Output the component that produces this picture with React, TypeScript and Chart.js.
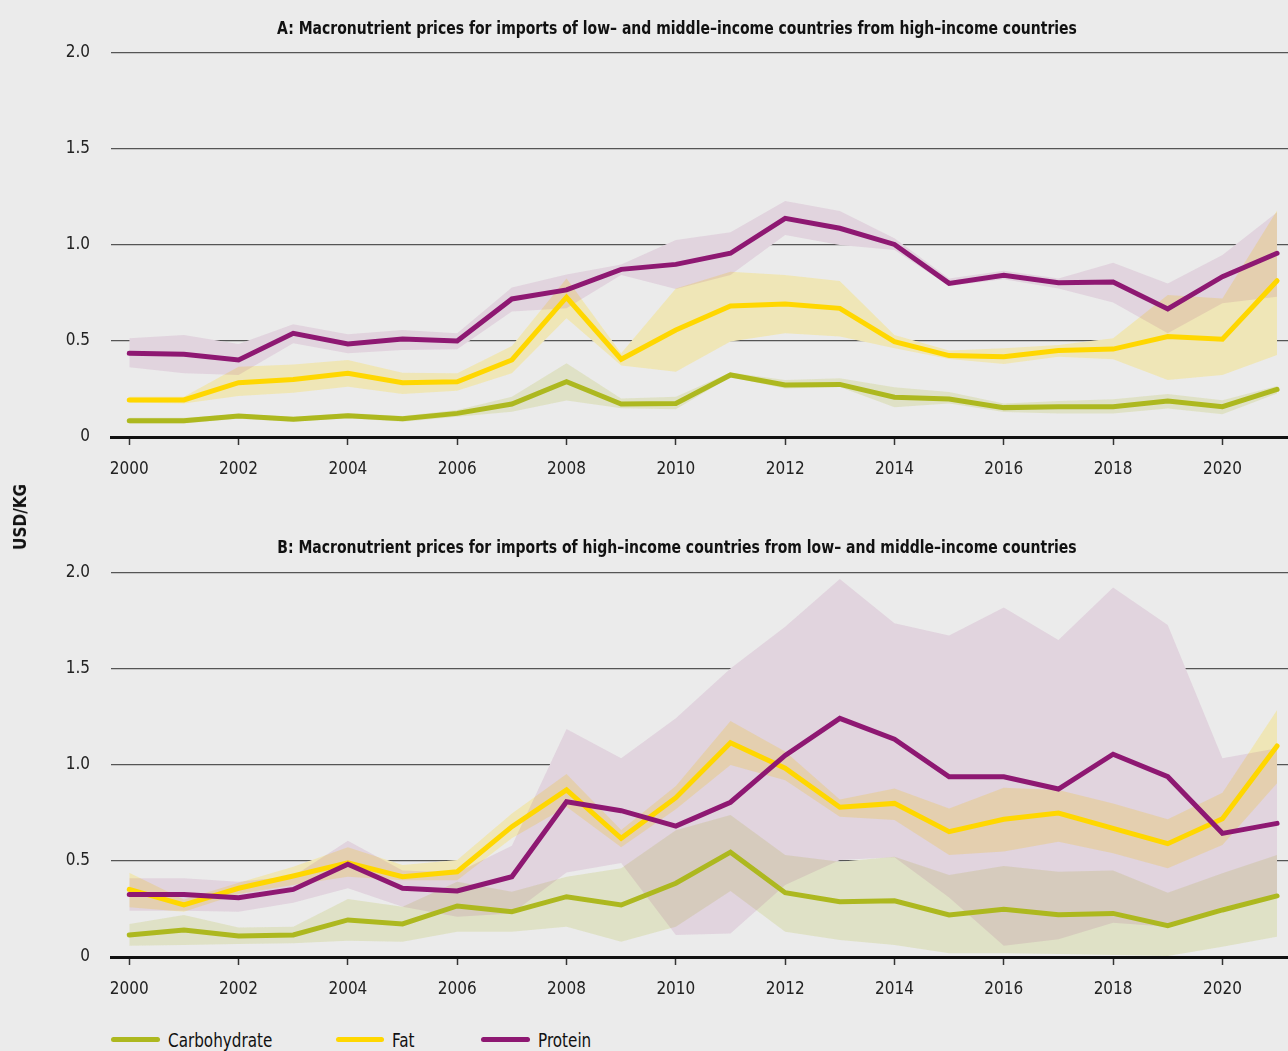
import React, { useEffect, useRef } from 'react';
import { Chart, registerables } from 'chart.js';

Chart.register(...registerables);

const YEARS = [2000, 2001, 2002, 2003, 2004, 2005, 2006, 2007, 2008, 2009, 2010, 2011, 2012, 2013, 2014, 2015, 2016, 2017, 2018, 2019, 2020, 2021];
const X_TICKS = [2000, 2002, 2004, 2006, 2008, 2010, 2012, 2014, 2016, 2018, 2020];
const Y_TICKS = [0, 0.5, 1, 1.5, 2];

const TITLE_A = 'A: Macronutrient prices for imports of low– and middle–income countries from high–income countries';
const TITLE_B = 'B: Macronutrient prices for imports of high–income countries from low– and middle–income countries';
const Y_TITLE = 'USD/KG';
const SERIES_NAMES = ['Carbohydrate', 'Fat', 'Protein'];

// Panel A
const A_CARB = [0.085, 0.085, 0.109, 0.092, 0.111, 0.095, 0.123, 0.172, 0.288, 0.172, 0.175, 0.323, 0.271, 0.274, 0.207, 0.198, 0.153, 0.158, 0.158, 0.188, 0.158, 0.248];
const A_CARB_HI = [0.1, 0.1, 0.12, 0.105, 0.125, 0.11, 0.14, 0.21, 0.384, 0.2, 0.21, 0.336, 0.297, 0.306, 0.259, 0.234, 0.174, 0.188, 0.196, 0.224, 0.191, 0.266];
const A_CARB_LO = [0.07, 0.07, 0.095, 0.08, 0.098, 0.08, 0.105, 0.132, 0.19, 0.15, 0.145, 0.312, 0.253, 0.26, 0.155, 0.174, 0.13, 0.122, 0.122, 0.149, 0.118, 0.226];

const A_FAT = [0.193, 0.193, 0.283, 0.3, 0.332, 0.283, 0.288, 0.401, 0.728, 0.405, 0.557, 0.682, 0.693, 0.67, 0.497, 0.424, 0.418, 0.45, 0.458, 0.523, 0.509, 0.814];
const A_FAT_HI = [0.21, 0.21, 0.366, 0.378, 0.401, 0.335, 0.332, 0.474, 0.826, 0.436, 0.774, 0.861, 0.844, 0.812, 0.531, 0.45, 0.462, 0.479, 0.514, 0.74, 0.722, 1.18];
const A_FAT_LO = [0.18, 0.175, 0.214, 0.231, 0.262, 0.224, 0.241, 0.332, 0.618, 0.372, 0.34, 0.497, 0.54, 0.523, 0.462, 0.406, 0.38, 0.418, 0.405, 0.297, 0.323, 0.427];

const A_PROT = [0.436, 0.431, 0.401, 0.54, 0.484, 0.51, 0.5, 0.719, 0.766, 0.873, 0.899, 0.957, 1.139, 1.087, 1.003, 0.8, 0.842, 0.804, 0.807, 0.667, 0.835, 0.957];
const A_PROT_HI = [0.514, 0.531, 0.484, 0.587, 0.535, 0.557, 0.54, 0.778, 0.847, 0.899, 1.026, 1.066, 1.229, 1.177, 1.035, 0.826, 0.866, 0.826, 0.908, 0.8, 0.948, 1.17];
const A_PROT_LO = [0.363, 0.332, 0.323, 0.488, 0.436, 0.453, 0.457, 0.653, 0.67, 0.844, 0.771, 0.844, 1.052, 1.0, 0.974, 0.786, 0.821, 0.774, 0.701, 0.54, 0.696, 0.731];

// Panel B
const B_CARB = [0.115, 0.141, 0.109, 0.115, 0.193, 0.172, 0.266, 0.236, 0.314, 0.271, 0.384, 0.546, 0.335, 0.288, 0.293, 0.219, 0.248, 0.22, 0.227, 0.163, 0.245, 0.318];
const B_CARB_HI = [0.172, 0.219, 0.153, 0.158, 0.302, 0.262, 0.392, 0.34, 0.418, 0.462, 0.66, 0.74, 0.531, 0.496, 0.522, 0.427, 0.474, 0.444, 0.45, 0.335, 0.436, 0.531];
const B_CARB_LO = [0.059, 0.063, 0.068, 0.071, 0.085, 0.08, 0.132, 0.132, 0.158, 0.08, 0.158, 0.344, 0.132, 0.089, 0.063, 0.02, 0.02, 0.015, 0.01, 0.005, 0.054, 0.106];

const B_FAT = [0.352, 0.271, 0.358, 0.422, 0.491, 0.418, 0.444, 0.679, 0.87, 0.618, 0.83, 1.116, 0.983, 0.78, 0.8, 0.653, 0.717, 0.75, 0.67, 0.59, 0.72, 1.099];
const B_FAT_HI = [0.439, 0.3, 0.387, 0.47, 0.571, 0.479, 0.505, 0.748, 0.953, 0.661, 0.89, 1.229, 1.07, 0.82, 0.878, 0.774, 0.882, 0.87, 0.8, 0.717, 0.856, 1.286];
const B_FAT_LO = [0.259, 0.236, 0.328, 0.375, 0.418, 0.4, 0.4, 0.618, 0.783, 0.571, 0.77, 1.0, 0.92, 0.73, 0.714, 0.531, 0.549, 0.6, 0.54, 0.462, 0.583, 0.905];

const B_PROT = [0.326, 0.326, 0.309, 0.352, 0.483, 0.358, 0.344, 0.418, 0.809, 0.762, 0.682, 0.806, 1.05, 1.243, 1.134, 0.939, 0.939, 0.875, 1.056, 0.939, 0.644, 0.696];
const B_PROT_HI = [0.41, 0.41, 0.392, 0.42, 0.606, 0.45, 0.44, 0.58, 1.188, 1.035, 1.243, 1.503, 1.72, 1.969, 1.738, 1.674, 1.82, 1.651, 1.925, 1.729, 1.035, 1.087];
const B_PROT_LO = [0.241, 0.241, 0.236, 0.283, 0.358, 0.262, 0.21, 0.227, 0.44, 0.49, 0.115, 0.123, 0.375, 0.505, 0.52, 0.31, 0.059, 0.092, 0.179, 0.158, 0.26, 0.32];

const FONT = "'Liberation Sans Narrow', 'Arial Narrow', 'DejaVu Sans Condensed', sans-serif";
const BG = '#ebebeb';
const LINE_COLORS = ['#adb81f', '#ffd700', '#8e1872'];
const BAND_COLORS = ['rgba(173,184,31,0.18)', 'rgba(255,215,0,0.22)', 'rgba(142,24,114,0.11)'];

const CANVAS_W = 1288;
const CANVAS_H = 500;

type Panel = { lines: number[][]; hi: number[][]; lo: number[][] };

const PANEL_A: Panel = {
  lines: [A_CARB, A_FAT, A_PROT],
  hi: [A_CARB_HI, A_FAT_HI, A_PROT_HI],
  lo: [A_CARB_LO, A_FAT_LO, A_PROT_LO],
};
const PANEL_B: Panel = {
  lines: [B_CARB, B_FAT, B_PROT],
  hi: [B_CARB_HI, B_FAT_HI, B_PROT_HI],
  lo: [B_CARB_LO, B_FAT_LO, B_PROT_LO],
};

const pts = (vals: number[]) => YEARS.map((x, i) => ({ x, y: vals[i] }));

function PanelChart({ panel, top }: { panel: Panel; top: number }) {
  const ref = useRef<HTMLCanvasElement | null>(null);
  useEffect(() => {
    if (!ref.current) return;
    const ds: any[] = [];
    const base = { pointRadius: 0, pointHoverRadius: 0, tension: 0 };
    // 0..2: lower bounds (invisible)
    for (let k = 0; k < 3; k++) {
      ds.push({ ...base, data: pts(panel.lo[k]), borderWidth: 0, borderColor: 'rgba(0,0,0,0)', fill: false, order: 200 });
    }
    // 3..5: opaque masks hiding grid lines under bands
    for (let k = 0; k < 3; k++) {
      ds.push({ ...base, data: pts(panel.hi[k]), borderWidth: 0, borderColor: 'rgba(0,0,0,0)', backgroundColor: BG, fill: k, order: 100 });
    }
    // 6..8: coloured bands
    for (let k = 0; k < 3; k++) {
      ds.push({ ...base, data: pts(panel.hi[k]), borderWidth: 0, borderColor: 'rgba(0,0,0,0)', backgroundColor: BAND_COLORS[k], fill: k, order: 50 - k });
    }
    // 9..11: lines
    for (let k = 0; k < 3; k++) {
      ds.push({ ...base, label: SERIES_NAMES[k], data: pts(panel.lines[k]), borderWidth: 5, borderColor: LINE_COLORS[k], borderCapStyle: 'round', borderJoinStyle: 'miter', fill: false, order: 10 - k });
    }
    const chart = new Chart(ref.current, {
      type: 'line',
      data: { datasets: ds },
      options: {
        animation: false,
        responsive: false,
        devicePixelRatio: 1,
        layout: { padding: { top: 53, left: 0, right: 0, bottom: 0 } },
        plugins: {
          legend: { display: false },
          tooltip: { enabled: false },
          title: { display: false },
          colors: { enabled: false },
        } as any,
        scales: {
          x: {
            type: 'linear',
            min: 1999.666,
            max: 2021.2,
            afterBuildTicks: (axis: any) => {
              axis.ticks = X_TICKS.map((v) => ({ value: v }));
            },
            afterFit: (axis: any) => {
              axis.height = CANVAS_H - 437;
            },
            ticks: {
              autoSkip: false,
              maxRotation: 0,
              padding: 14,
              color: '#222',
              font: { family: FONT, size: 17 },
              callback: (v: any) => String(v),
            },
            grid: { drawOnChartArea: false, drawTicks: true, tickLength: 8, tickColor: '#333', tickWidth: 1.5 },
            border: { display: true, color: '#111', width: 3 },
          },
          y: {
            type: 'linear',
            min: 0,
            max: 2,
            afterBuildTicks: (axis: any) => {
              axis.ticks = Y_TICKS.map((v) => ({ value: v }));
            },
            afterFit: (axis: any) => {
              axis.width = 111;
            },
            ticks: {
              padding: 21,
              color: '#222',
              font: { family: FONT, size: 17 },
              callback: (v: any) => (v === 0 ? '0' : Number(v).toFixed(1)),
            },
            grid: { drawTicks: false, color: '#555', lineWidth: 1.3 },
            border: { display: false },
          },
        },
      } as any,
    });
    return () => chart.destroy();
  }, []);
  return (
    <canvas
      ref={ref}
      width={CANVAS_W}
      height={CANVAS_H}
      style={{ position: 'absolute', left: 0, top, width: CANVAS_W, height: CANVAS_H }}
    />
  );
}

const titleStyle: React.CSSProperties = {
  position: 'absolute',
  left: 0,
  width: 1354,
  textAlign: 'center',
  fontFamily: FONT,
  fontWeight: 'bold',
  fontSize: 17,
  lineHeight: '20px',
  color: '#111',
  whiteSpace: 'nowrap',
  transform: 'scaleX(0.915)',
  transformOrigin: '677px 50%',
};

const legendText: React.CSSProperties = {
  position: 'absolute',
  top: 1029,
  fontFamily: FONT,
  fontSize: 19,
  lineHeight: '22px',
  color: '#111',
  whiteSpace: 'nowrap',
  transform: 'scaleX(0.89)',
  transformOrigin: '0 50%',
};

const legendLine = (left: number, width: number, color: string): React.CSSProperties => ({
  position: 'absolute',
  left,
  top: 1037,
  width,
  height: 5,
  borderRadius: 3,
  background: color,
});

export default function App() {
  return (
    <div style={{ position: 'absolute', left: 0, top: 0, width: 1288, height: 1051, background: BG, overflow: 'hidden' }}>
      <PanelChart panel={PANEL_A} top={0} />
      <PanelChart panel={PANEL_B} top={520} />
      <div style={{ ...titleStyle, top: 18 }}>{TITLE_A}</div>
      <div style={{ ...titleStyle, top: 537 }}>{TITLE_B}</div>
      <div
        style={{
          position: 'absolute',
          left: 20,
          top: 517,
          transform: 'translate(-50%, -50%) rotate(-90deg)',
          fontFamily: FONT,
          fontWeight: 'bold',
          fontSize: 17,
          color: '#111',
          whiteSpace: 'nowrap',
        }}
      >
        {Y_TITLE}
      </div>
      <div style={legendLine(111, 49, LINE_COLORS[0])} />
      <div style={{ ...legendText, left: 168 }}>{SERIES_NAMES[0]}</div>
      <div style={legendLine(336, 48, LINE_COLORS[1])} />
      <div style={{ ...legendText, left: 392 }}>{SERIES_NAMES[1]}</div>
      <div style={legendLine(481, 49, LINE_COLORS[2])} />
      <div style={{ ...legendText, left: 538 }}>{SERIES_NAMES[2]}</div>
    </div>
  );
}
